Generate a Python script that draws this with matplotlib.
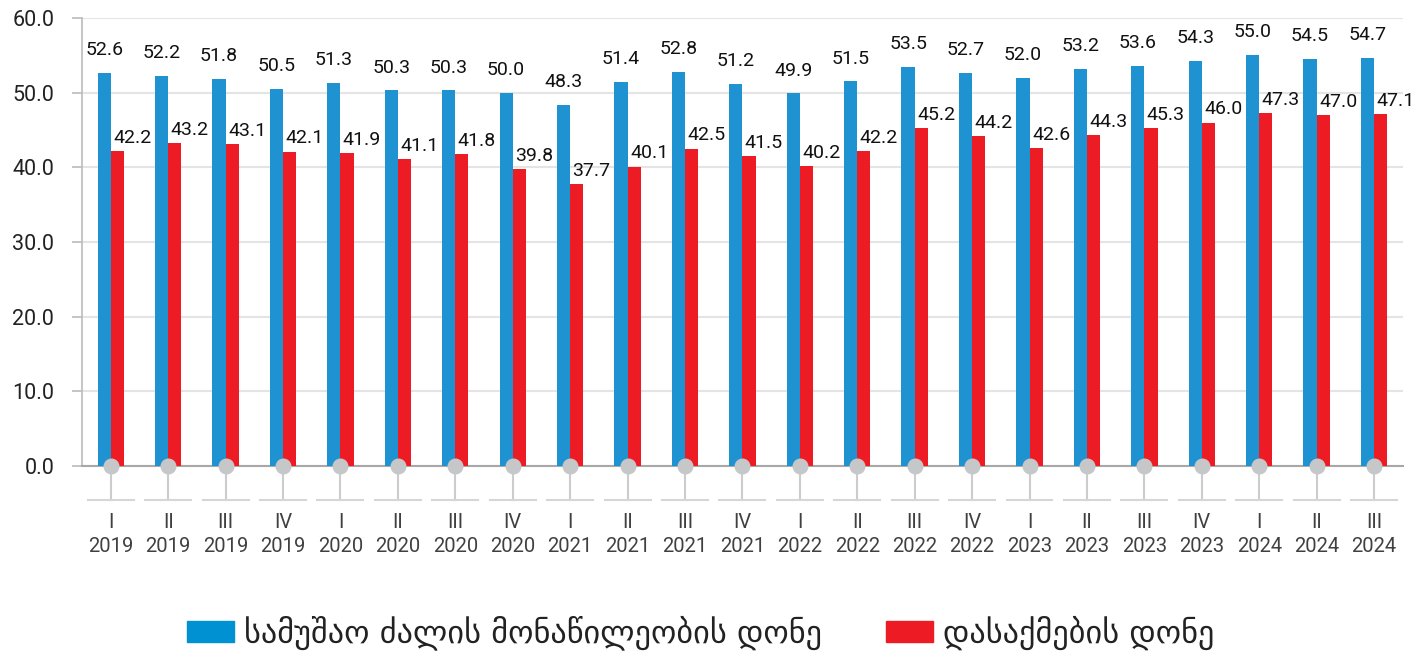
import matplotlib
matplotlib.use("Agg")
import matplotlib.pyplot as plt
from matplotlib.patches import Patch

# ====
# DATA
# ====
quarters = ["I", "II", "III", "IV", "I", "II", "III", "IV", "I", "II", "III", "IV",
            "I", "II", "III", "IV", "I", "II", "III", "IV", "I", "II", "III"]
years = [2019] * 4 + [2020] * 4 + [2021] * 4 + [2022] * 4 + [2023] * 4 + [2024] * 3
participation = [52.6, 52.2, 51.8, 50.5, 51.3, 50.3, 50.3, 50.0, 48.3, 51.4, 52.8, 51.2,
                 49.9, 51.5, 53.5, 52.7, 52.0, 53.2, 53.6, 54.3, 55.0, 54.5, 54.7]
employment = [42.2, 43.2, 43.1, 42.1, 41.9, 41.1, 41.8, 39.8, 37.7, 40.1, 42.5, 41.5,
              40.2, 42.2, 45.2, 44.2, 42.6, 44.3, 45.3, 46.0, 47.3, 47.0, 47.1]
series_names = ["სამუშაო ძალის მონაწილეობის დონე", "დასაქმების დონე"]
yticks = [0, 10, 20, 30, 40, 50, 60]

# ======
# STYLE
# ======
BLUE = "#1f93d2"
RED = "#ed1c24"
GRID = "#e4e4e4"
TEXT = "#404040"
NUM_FONT = "Roboto"
BAR_W = 0.23

plt.rcParams["font.family"] = [NUM_FONT, "DejaVu Sans"]

fig = plt.figure(figsize=(14.27, 6.52), dpi=100)
ax = fig.add_axes([0.0575, 0.2853, 0.9255, 0.6871])

x = list(range(len(quarters)))
xb = [i - BAR_W / 2 for i in x]
xr = [i + BAR_W / 2 for i in x]

ax.bar(xb, participation, width=BAR_W, color=BLUE, zorder=3)
ax.bar(xr, employment, width=BAR_W, color=RED, zorder=3)

# value labels
for xi, v in zip(xb, participation):
    ax.annotate(f"{v:.1f}", (xi, v), xytext=(0, 10), textcoords="offset points",
                ha="center", va="bottom", fontsize=14, color="#111111")
for xi, v in zip(xr, employment):
    ax.annotate(f"{v:.1f}", (xi, v), xytext=(-3, 3), textcoords="offset points",
                ha="left", va="bottom", fontsize=14, color="#111111")

# axes
ax.set_xlim(-0.5, len(quarters) - 0.5)
ax.set_ylim(0, 60)
ax.set_yticks(yticks)
ax.set_yticklabels([f"{t:.1f}" for t in yticks], fontsize=15.5, color="#222222")
ax.yaxis.grid(True, color=GRID, linewidth=1.5, zorder=0)
ax.set_axisbelow(True)
ax.tick_params(axis="y", length=7, width=1.2, color="#bbbbbb", pad=13)

for s in ["top", "right"]:
    ax.spines[s].set_visible(False)
ax.spines["left"].set_color("#bbbbbb")
ax.spines["left"].set_linewidth(1.2)
ax.spines["bottom"].set_color("#a8a8a8")
ax.spines["bottom"].set_linewidth(1.5)

ax.set_xticks(x)
ax.set_xticklabels([f"{q}\n{y}" for q, y in zip(quarters, years)],
                   fontsize=14.5, color=TEXT, linespacing=1.3)
ax.tick_params(axis="x", length=0, pad=34)

# category markers below the axis
trans = ax.get_xaxis_transform()
for xi in x:
    ax.plot([xi, xi], [0, -0.076], transform=trans, color="#cccccc", lw=1.5,
            clip_on=False, zorder=2)
    ax.plot([xi - 0.4, xi + 0.4], [-0.076, -0.076], transform=trans, color="#d6d6d6",
            lw=1.5, clip_on=False, zorder=2)
ax.plot(x, [0] * len(x), "o", color="#c6c7c8", markersize=10.5, clip_on=False, zorder=5)

# legend
handles = [Patch(color="#0091d3"), Patch(color=RED)]
fig.legend(handles, series_names, loc="center", bbox_to_anchor=(0.491, 0.029),
           ncol=2, frameon=False, handlelength=1.45, handleheight=0.65,
           columnspacing=2.0, handletextpad=0.3, borderpad=0,
           prop={"family": "DejaVu Sans", "size": 23.2},
           labelcolor="#222222")

fig.savefig("out.png", dpi=100)
